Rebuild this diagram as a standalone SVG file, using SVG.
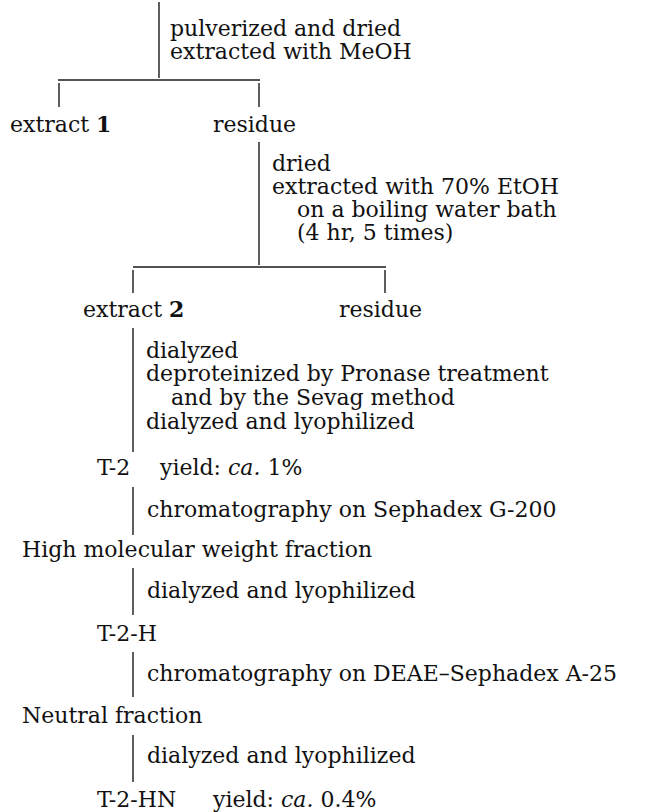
<svg xmlns="http://www.w3.org/2000/svg" width="660" height="812" viewBox="0 0 660 812">
<style>
text{font-family:"DejaVu Serif","Liberation Serif",serif;font-size:22px;fill:#111}
.c path{stroke:#1a1a1a;stroke-width:1.4;fill:none}
.b{font-weight:bold}
.i{font-style:italic}
</style>
<rect width="660" height="812" fill="#fff"/>
<g id="connectors" class="c">
<path d="M159 2V78"/>
<path d="M58 80H260"/>
<path d="M59 83V107M259 83V107"/>
<path d="M259 142V265"/>
<path d="M133 267H386"/>
<path d="M133 270V293M385 270V293"/>
<path d="M133 328V452"/>
<path d="M133 487V535"/>
<path d="M133 568V615"/>
<path d="M133 652V697"/>
<path d="M133 735V782"/>
</g>
<g id="step1"><text x="170" y="36">pulverized and dried</text><text x="170" y="59">extracted with MeOH</text></g>
<g id="extract1"><text x="10" y="132">extract <tspan class="b">1</tspan></text></g>
<g id="residue1"><text x="213" y="132">residue</text></g>
<g id="step2"><text x="272" y="171">dried</text><text x="272" y="194">extracted with 70% EtOH</text><text x="297" y="217">on a boiling water bath</text><text x="297" y="240">(4 hr, 5 times)</text></g>
<g id="extract2"><text x="83" y="317">extract <tspan class="b">2</tspan></text></g>
<g id="residue2"><text x="339" y="317">residue</text></g>
<g id="step3"><text x="146" y="358">dialyzed</text><text x="146" y="381">deproteinized by Pronase treatment</text><text x="171" y="405">and by the Sevag method</text><text x="146" y="429">dialyzed and lyophilized</text></g>
<g id="t2"><text x="97" y="475">T-2</text><text x="160" y="475">yield: <tspan class="i">ca.</tspan> 1%</text></g>
<g id="step4"><text x="147" y="517">chromatography on Sephadex G-200</text></g>
<g id="hmw"><text x="22" y="557">High molecular weight fraction</text></g>
<g id="step5"><text x="147" y="598">dialyzed and lyophilized</text></g>
<g id="t2h"><text x="97" y="641">T-2-H</text></g>
<g id="step6"><text x="147" y="681">chromatography on DEAE–Sephadex A-25</text></g>
<g id="neutral"><text x="22" y="723">Neutral fraction</text></g>
<g id="step7"><text x="147" y="763">dialyzed and lyophilized</text></g>
<g id="t2hn"><text x="97" y="807">T-2-HN</text><text x="213" y="807">yield: <tspan class="i">ca.</tspan> 0.4%</text></g>
</svg>
